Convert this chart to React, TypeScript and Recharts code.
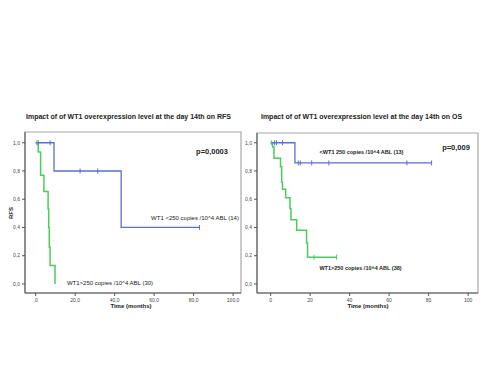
import React from "react";
import { LineChart, Line, XAxis, YAxis, ReferenceArea } from "recharts";

// RFS panel (months, survival, censored flag)
const rfsLowTime = [0, 1.3, 7.3, 9.3, 22.5, 31.4, 43.3, 83];
const rfsLowSurv = [1, 1, 1, 0.8, 0.8, 0.8, 0.4, 0.4];
const rfsLowCens = [0, 1, 1, 0, 1, 1, 0, 1];

const rfsHighTime = [0, 0.6, 1.3, 2.5, 4.2, 6.3, 6.6, 6.9, 7.3, 9.8];
const rfsHighSurv = [1, 1, 0.935, 0.77, 0.655, 0.53, 0.4, 0.26, 0.13, 0];
const rfsHighCens = [0, 1, 0, 0, 0, 0, 0, 0, 0, 0];

// OS panel
const osLowTime = [0, 2, 3, 6, 12.3, 14, 15, 20.8, 29.5, 69, 81.5];
const osLowSurv = [1, 1, 1, 1, 0.857, 0.857, 0.857, 0.857, 0.857, 0.857, 0.857];
const osLowCens = [0, 1, 1, 1, 0, 1, 1, 1, 1, 1, 1];

const osHighTime = [0, 0.5, 1, 1.7, 5, 5.6, 6, 7.6, 9.8, 10.3, 13.2, 18.2, 18.7, 22, 33.4];
const osHighSurv = [1, 1, 0.97, 0.89, 0.83, 0.72, 0.67, 0.61, 0.535, 0.455, 0.38, 0.29, 0.19, 0.19, 0.19];
const osHighCens = [0, 1, 0, 0, 0, 0, 0, 0, 0, 0, 0, 0, 0, 1, 1];

const xTicks = [0, 20, 40, 60, 80, 100];
const yTicks = [0, 0.2, 0.4, 0.6, 0.8, 1];

const BLUE = "#5a6fd0";
const GREEN = "#4ccc5c";

const rows = (t: number[], s: number[], c: number[]) => t.map((v, i) => ({ t: v, s: s[i], c: c[i] }));

const censorDot = (color: string) => (props: any) => {
  const { cx, cy, payload, index } = props;
  if (!payload.c) return <g key={index} />;
  return <line key={index} x1={cx} x2={cx} y1={cy - 2.5} y2={cy + 2.5} stroke={color} strokeWidth={1} />;
};

const yFmt = (v: number) => v.toFixed(1).replace(".", ",");
const tickStyle = { fontSize: 5, fill: "#444", fontFamily: "Liberation Sans" };

const abs = (x: number, y: number, style: React.CSSProperties = {}): React.CSSProperties => ({
  position: "absolute",
  left: x,
  top: y,
  transform: "translate(-50%, -50%)",
  whiteSpace: "nowrap",
  lineHeight: 1,
  fontFamily: "Liberation Sans, Arial, sans-serif",
  color: "#222",
  ...style,
});

function Panel({
  left, width, margin, xDomain, yDomain, xFmt, low, high,
}: {
  left: number; width: number; margin: any; xDomain: number[]; yDomain: number[];
  xFmt: (v: number) => string; low: any[]; high: any[];
}) {
  return (
    <div style={{ position: "absolute", left, top: 125 }}>
      <LineChart width={width} height={200} margin={margin}>
        <XAxis dataKey="t" type="number" domain={xDomain} ticks={xTicks} allowDataOverflow
          tickFormatter={xFmt} tick={tickStyle} tickSize={3} height={20} stroke="#555" />
        <YAxis type="number" domain={yDomain} ticks={yTicks} allowDataOverflow
          tickFormatter={yFmt} tick={tickStyle} tickSize={3} width={25} stroke="#555" />
        <ReferenceArea x1={xDomain[0]} x2={xDomain[1]} y1={yDomain[0]} y2={yDomain[1]}
          fill="none" stroke="#a8a8a8" strokeWidth={1.2} ifOverflow="visible" />
        <Line data={high} dataKey="s" type="stepAfter" stroke={GREEN} strokeWidth={1.5}
          dot={censorDot(GREEN)} activeDot={false} isAnimationActive={false} />
        <Line data={low} dataKey="s" type="stepAfter" stroke={BLUE} strokeWidth={1.3}
          dot={censorDot(BLUE)} activeDot={false} isAnimationActive={false} />
      </LineChart>
    </div>
  );
}

export default function App() {
  return (
    <div style={{ position: "fixed", left: 0, top: 0, width: 500, height: 375, background: "#fff", overflow: "hidden" }}>
      <div style={abs(128.5, 115.5, { fontSize: 7, fontWeight: "bold" })}>
        Impact of of WT1 overexpression level at the day 14th on RFS
      </div>
      <div style={abs(361.5, 115.5, { fontSize: 7, fontWeight: "bold" })}>
        Impact of of WT1 overexpression level at the day 14th on OS
      </div>

      <Panel left={0} width={250} margin={{ top: 7, right: 9, bottom: 12, left: 0 }}
        xDomain={[-5.4, 104]} yDomain={[-0.064, 1.076]}
        xFmt={(v) => (v === 0 ? ",0" : `${v},0`)}
        low={rows(rfsLowTime, rfsLowSurv, rfsLowCens)} high={rows(rfsHighTime, rfsHighSurv, rfsHighCens)} />
      <Panel left={232} width={268} margin={{ top: 8, right: 22, bottom: 12, left: 0 }}
        xDomain={[-6.9, 105]} yDomain={[-0.064, 1.069]}
        xFmt={(v) => `${v}`}
        low={rows(osLowTime, osLowSurv, osLowCens)} high={rows(osHighTime, osHighSurv, osHighCens)} />

      <div style={abs(11, 213, { fontSize: 6, fontWeight: "bold", transform: "translate(-50%, -50%) rotate(-90deg)" })}>RFS</div>
      <div style={abs(131, 306, { fontSize: 6, fontWeight: "bold" })}>Time (months)</div>
      <div style={abs(368, 306, { fontSize: 6, fontWeight: "bold" })}>Time (months)</div>

      <div style={abs(212, 152, { fontSize: 7.5, fontWeight: "bold" })}>p=0,0003</div>
      <div style={abs(195, 218, { fontSize: 6 })}>WT1 &lt;250 copies /10^4 ABL (14)</div>
      <div style={abs(110, 283, { fontSize: 6 })}>WT1&gt;250 copies /10^4 ABL (30)</div>

      <div style={abs(456, 147.5, { fontSize: 7.5, fontWeight: "bold" })}>p=0,009</div>
      <div style={abs(361.5, 153, { fontSize: 5.5, fontWeight: "bold" })}>&lt;WT1 250 copies /10^4 ABL (13)</div>
      <div style={abs(360.5, 269, { fontSize: 5.5, fontWeight: "bold" })}>WT1&gt;250 copies /10^4 ABL (38)</div>
    </div>
  );
}
